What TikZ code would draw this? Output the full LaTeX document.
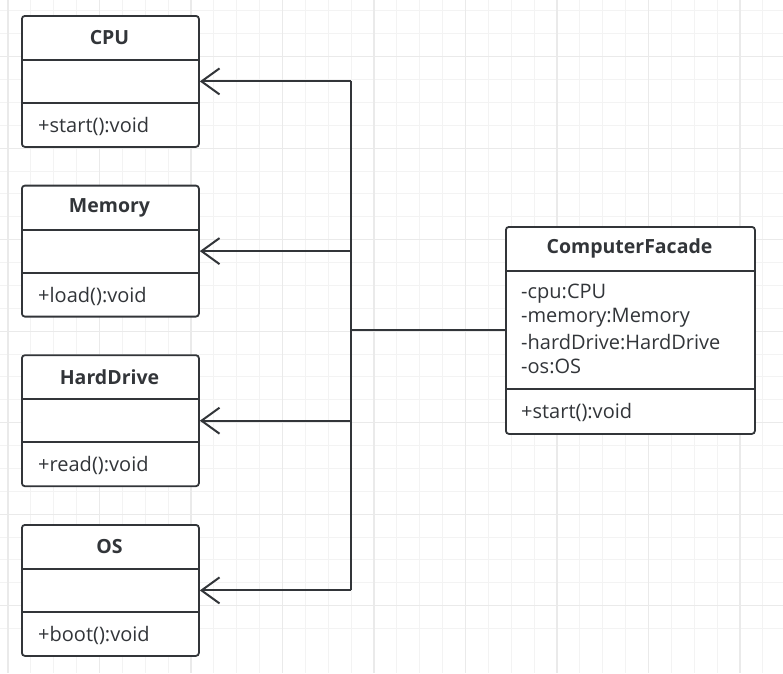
\documentclass[tikz,border=0pt]{standalone}
\usepackage{fontspec}
\setmainfont{Open Sans}
\usetikzlibrary{arrows.meta}
\definecolor{ink}{RGB}{50,53,57}
\definecolor{gridminor}{RGB}{243,243,243}
\definecolor{gridmajor}{RGB}{234,234,234}
\tikzset{
  umlbox/.style={draw=ink, line width=1.8pt, fill=white, rounded corners=3pt,
    rectangle, inner sep=0pt},
  divider/.style={draw=ink, line width=1.8pt},
  classname/.style={text=ink, font=\fontsize{19.5}{23}\selectfont\bfseries, inner sep=0pt},
  member/.style={text=ink, font=\fontsize{20}{24}\selectfont, inner sep=0pt, anchor=west},
  conn/.style={draw=ink, line width=2pt},
  dep/.style={conn, -{Straight Barb[length=18pt, width=26pt, line width=2pt]}},
  gmin/.style={draw=gridminor, line width=1pt},
  gmaj/.style={draw=gridmajor, line width=1.2pt},
}
\begin{document}
\begin{tikzpicture}[x=1pt, y=-1pt]
  \useasboundingbox (0,0) rectangle (783,673);
  \fill[white] (0,0) rectangle (783,673);
  % background grid
  \foreach \i in {0,...,34} {
    \draw[gmin] ({8+22.875*\i},0) -- ({8+22.875*\i},673);
  }
  \foreach \j in {0,...,29} {
    \draw[gmin] (0,{-34.8+22.875*\j}) -- (783,{-34.8+22.875*\j});
  }
  \foreach \i in {0,...,8} {
    \draw[gmaj] ({8+91.5*\i},0) -- ({8+91.5*\i},673);
  }
  \foreach \j in {0,...,7} {
    \draw[gmaj] (0,{-34.8+91.5*\j}) -- (783,{-34.8+91.5*\j});
  }

  % left column of classes: name, attribute and operation compartments
  \foreach \nm/\title/\op/\top in {cpu/CPU/+start():void/15,
                                   mem/Memory/+load():void/184.7,
                                   hdd/HardDrive/+read():void/354.3,
                                   os/OS/+boot():void/524} {
    \node[umlbox, minimum width=177pt, minimum height=131pt, anchor=north west]
      (\nm) at (21,\top) {};
    \draw[divider] (21,\top+45) -- (198,\top+45);
    \draw[divider] (21,\top+88) -- (198,\top+88);
    \node[classname] (\nm-title) at (109.5,\top+23) {\title};
    \node[member] (\nm-op) at (38,\top+111.5) {\op};
  }

  % facade class
  \node[umlbox, minimum width=249pt, minimum height=207pt, anchor=north west]
    (facade) at (505,226) {};
  \draw[divider] (505,271) -- (754,271);
  \draw[divider] (505,389) -- (754,389);
  \node[classname] (facade-title) at (629.5,248.5) {ComputerFacade};
  \node[member] (fa1) at (521,294) {-cpu:CPU};
  \node[member] (fa2) at (521,318) {-memory:Memory};
  \node[member] (fa3) at (521,342) {-hardDrive:HardDrive};
  \node[member] (fa4) at (521,366) {-os:OS};
  \node[member] (fop) at (521,412) {+start():void};

  % connectors from the facade to each subsystem class
  \coordinate (j) at (351,330);
  \draw[conn] (facade.west |- j) -- (j);
  \draw[conn] (j |- cpu.east) -- (j |- os.east);
  \draw[dep] (j |- cpu.east) -- (cpu.east);
  \draw[dep] (j |- mem.east) -- (mem.east);
  \draw[dep] (j |- hdd.east) -- (hdd.east);
  \draw[dep] (j |- os.east) -- (os.east);
\end{tikzpicture}
\end{document}
